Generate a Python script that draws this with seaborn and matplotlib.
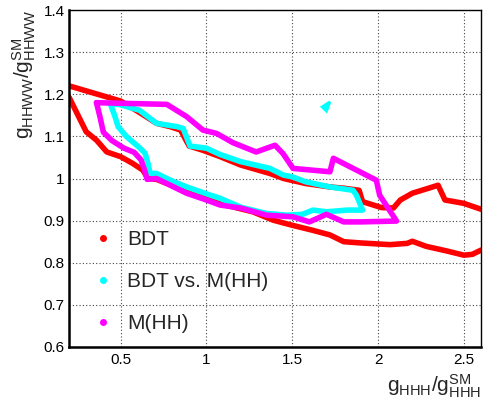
import numpy as np
import pandas as pd
import seaborn as sns
from matplotlib import pyplot as plt
from matplotlib.lines import Line2D
from matplotlib.ticker import MultipleLocator

# contour traces
bdt_upper_x = [0.2, 0.5, 0.61, 0.71, 0.79, 0.85, 0.9, 0.98, 1.08, 1.2, 1.37, 1.45, 1.58, 1.72,
               1.8, 1.89, 1.91, 2.02, 2.09, 2.13, 2.2, 2.35, 2.39, 2.5, 2.6]
bdt_upper_y = [1.22, 1.184, 1.157, 1.131, 1.123, 1.115, 1.077, 1.067, 1.052, 1.032, 1.012, 1.0, 0.988, 0.98,
               0.977, 0.972, 0.945, 0.931, 0.93, 0.949, 0.965, 0.984, 0.949, 0.941, 0.927]
bdt_lower_x = [0.2, 0.3, 0.36, 0.42, 0.5, 0.57, 0.63, 0.66, 0.71, 0.79, 0.89, 1.0, 1.08, 1.27, 1.39,
               1.5, 1.62, 1.72, 1.8, 1.9, 2.07, 2.17, 2.2, 2.28, 2.4, 2.5, 2.55, 2.6]
bdt_lower_y = [1.193, 1.111, 1.091, 1.063, 1.052, 1.036, 1.02, 1.0, 0.998, 0.985, 0.967, 0.952, 0.94, 0.921, 0.901,
               0.889, 0.877, 0.866, 0.85, 0.847, 0.843, 0.846, 0.851, 0.839, 0.828, 0.818, 0.82, 0.83]

combo_x = [0.44, 0.5, 0.61, 0.71, 0.83, 0.865, 0.905, 1.0, 1.08, 1.2, 1.37, 1.45, 1.5, 1.58, 1.72, 1.855,
           1.875, 1.91, 1.82, 1.7, 1.62, 1.56, 1.47, 1.35, 1.2, 1.08, 1.02, 0.885, 0.79, 0.71, 0.672,
           0.66, 0.643, 0.614, 0.536, 0.486, 0.468, 0.44]
combo_y = [1.178, 1.175, 1.162, 1.131, 1.123, 1.119, 1.077, 1.072, 1.057, 1.04, 1.024, 1.008, 1.004, 0.992,
           0.98, 0.972, 0.96, 0.925, 0.925, 0.921, 0.925, 0.915, 0.913, 0.917, 0.932, 0.953, 0.961, 0.98,
           0.996, 1.012, 1.012, 1.036, 1.06, 1.072, 1.099, 1.123, 1.147, 1.178]
combo_blob_x = [1.674, 1.72, 1.70]
combo_blob_y = [1.17, 1.182, 1.16]

mhh_x = [0.36, 0.77, 0.885, 0.98, 1.06, 1.155, 1.29, 1.4, 1.447, 1.505, 1.72, 1.74, 1.99, 2.01, 2.108,
         1.9, 1.8, 1.7, 1.6, 1.505, 1.35, 1.2, 1.08, 1.0, 0.885, 0.79, 0.71, 0.655, 0.64, 0.62, 0.58,
         0.52, 0.45, 0.4, 0.38, 0.36]
mhh_y = [1.18, 1.176, 1.147, 1.115, 1.107, 1.085, 1.063, 1.079, 1.059, 1.024, 1.016, 1.048, 0.996, 0.96, 0.899,
         0.897, 0.897, 0.915, 0.897, 0.909, 0.913, 0.93, 0.937, 0.949, 0.965, 0.984, 1.0, 0.998, 1.02, 1.044, 1.062,
         1.072, 1.09, 1.11, 1.147, 1.18]

labels = ["BDT", "BDT vs. M(HH)", "M(HH)"]
colors = ["#ff0000", "#00ffff", "#ff00ff"]

sns.set_style("white")
plt.rcParams['font.family'] = ['Liberation Sans', 'DejaVu Sans']
plt.rcParams['mathtext.default'] = 'regular'

fig = plt.figure(figsize=(4.84, 4.04), dpi=100)
ax = fig.add_axes([0.1426, 0.1411, 0.8512, 0.8341])

lw = 4.0
for xs, ys in [(bdt_upper_x, bdt_upper_y), (bdt_lower_x, bdt_lower_y)]:
    sns.lineplot(x=xs, y=ys, sort=False, estimator=None, color=colors[0], lw=lw, ax=ax)
sns.lineplot(x=combo_x, y=combo_y, sort=False, estimator=None, color=colors[1], lw=lw, ax=ax)
ax.fill(combo_blob_x, combo_blob_y, color=colors[1], lw=2, ec=colors[1])
sns.lineplot(x=mhh_x, y=mhh_y, sort=False, estimator=None, color=colors[2], lw=lw, ax=ax)

ax.set_xlim(0.2, 2.6)
ax.set_ylim(0.6, 1.4)
ax.xaxis.set_minor_locator(MultipleLocator(0.1))
ax.yaxis.set_minor_locator(MultipleLocator(0.02))
ax.set_xticks([0.5, 1, 1.5, 2, 2.5])
ax.set_xticklabels(["0.5", "1", "1.5", "2", "2.5"])
ax.set_yticks(np.arange(0.6, 1.41, 0.1))
ax.set_yticklabels(["0.6", "0.7", "0.8", "0.9", "1", "1.1", "1.2", "1.3", "1.4"])
ax.grid(True, which='major', ls=(0, (1, 2)), color='#444444', lw=0.8)
ax.tick_params(axis='both', which='both', direction='in', top=False, right=False,
               labelsize=11, colors='black', width=1.2)
ax.tick_params(axis='y', which='major', length=9, pad=3)
ax.tick_params(axis='y', which='minor', length=4.5)
ax.tick_params(axis='x', which='major', length=7, pad=4)
ax.tick_params(axis='x', which='minor', length=3.5)
for side in ['left', 'bottom']:
    ax.spines[side].set_linewidth(1.8)
for side in ['top', 'right']:
    ax.spines[side].set_linewidth(1.0)
for s in ax.spines.values():
    s.set_color('black')

ax.set_xlabel(r'$g_{HHH}/g_{HHH}^{SM}$', fontsize=15, loc='right', labelpad=4)
ax.set_ylabel(r'$g_{HHWW}/g_{HHWW}^{SM}$', fontsize=15, loc='top', labelpad=4)

handles = [Line2D([], [], ls='none', marker='o', ms=4, color=c) for c in colors]
ax.legend(handles, labels, loc='lower left', bbox_to_anchor=(0.0, -0.015), frameon=False,
          fontsize=15, handletextpad=0.4, labelspacing=1.1, handlelength=1.5)

fig.savefig("out.png", dpi=100)
